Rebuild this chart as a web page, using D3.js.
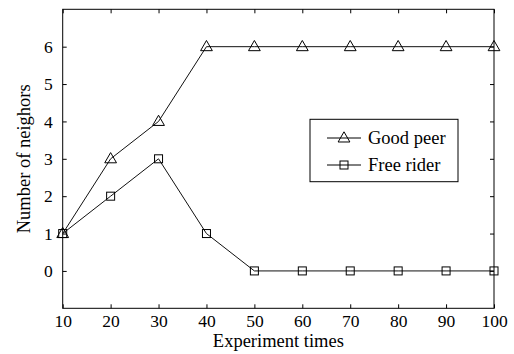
<!DOCTYPE html>
<html><head><meta charset="utf-8">
<script src="https://cdn.jsdelivr.net/npm/d3@7"></script>
<style>body{margin:0;background:#fff}svg{display:block}</style>
</head><body>
<script>
const xValues = [10,20,30,40,50,60,70,80,90,100];
const goodPeer = [1,3,4,6,6,6,6,6,6,6];
const freeRider = [1,2,3,1,0,0,0,0,0,0];
const xTicks = [10,20,30,40,50,60,70,80,90,100];
const yTicks = [0,1,2,3,4,5,6];
const seriesNames = ["Good peer","Free rider"];

const FONT='"Liberation Serif"';
const W=514,H=354;
const m={l:62.7,r:494,t:9.3,b:308.3};
const svg=d3.select("body").append("svg").attr("width",W).attr("height",H);
const x=d3.scaleLinear().domain([10,100]).range([m.l,m.r]);
const y=d3.scaleLinear().domain([-1,7]).range([m.b,m.t]);
const tl=4;
const gx=svg.append("g").attr("transform",`translate(0,${m.b})`)
  .call(d3.axisBottom(x).tickValues(xTicks).tickSizeInner(-tl).tickSizeOuter(0).tickPadding(6));
const gxt=svg.append("g").attr("transform",`translate(0,${m.t})`)
  .call(d3.axisTop(x).tickValues(xTicks).tickSizeInner(-tl).tickSizeOuter(0).tickFormat(""));
const gy=svg.append("g").attr("transform",`translate(${m.l},0)`)
  .call(d3.axisLeft(y).tickValues(yTicks).tickSizeInner(-tl).tickSizeOuter(0).tickPadding(10));
const gyr=svg.append("g").attr("transform",`translate(${m.r},0)`)
  .call(d3.axisRight(y).tickValues(yTicks).tickSizeInner(-tl).tickSizeOuter(0).tickFormat(""));
[gx,gxt,gy,gyr].forEach(g=>{
  g.select(".domain").remove();g.selectAll("line").attr("stroke","#000");
  g.selectAll("text").style("font-family",FONT).style("font-size","17.5px").attr("fill","#000");});
svg.append("rect").attr("x",m.l).attr("y",m.t).attr("width",m.r-m.l).attr("height",m.b-m.t)
  .attr("fill","none").attr("stroke","#000").attr("stroke-width",1);

const line=d3.line().x((d,i)=>x(xValues[i])).y(d=>y(d));
const tri=d3.symbol().type(d3.symbolTriangle).size(60);
const sq=8;
function drawSeries(vals,kind){
  svg.append("path").datum(vals).attr("d",line).attr("fill","none").attr("stroke","#111").attr("stroke-width",1);
  vals.forEach((v,i)=>{
    if(kind==="tri") svg.append("path").attr("d",tri()).attr("transform",`translate(${x(xValues[i])},${y(v)+0.6})`).attr("fill","none").attr("stroke","#000");
    else svg.append("rect").attr("x",x(xValues[i])-sq/2).attr("y",y(v)-sq/2).attr("width",sq).attr("height",sq).attr("fill","none").attr("stroke","#000");
  });
}
drawSeries(goodPeer,"tri");
drawSeries(freeRider,"sq");

const lg=svg.append("g");
lg.append("rect").attr("x",310).attr("y",119.3).attr("width",148).attr("height",62.4).attr("fill","#fff").attr("stroke","#000");
const rows=[138,165];
seriesNames.forEach((n,i)=>{
  lg.append("line").attr("x1",327).attr("x2",361).attr("y1",rows[i]).attr("y2",rows[i]).attr("stroke","#000");
  if(i===0) lg.append("path").attr("d",tri()).attr("transform",`translate(344,${rows[i]+0.6})`).attr("fill","none").attr("stroke","#000");
  else lg.append("rect").attr("x",344-sq/2).attr("y",rows[i]-sq/2).attr("width",sq).attr("height",sq).attr("fill","none").attr("stroke","#000");
  lg.append("text").attr("x",368).attr("y",rows[i]+6).style("font-family",FONT).style("font-size","18.5px").attr("fill","#000").text(n);
});
svg.append("text").attr("x",(m.l+m.r)/2).attr("y",347).attr("text-anchor","middle").style("font-family",FONT).style("font-size","18.5px").attr("fill","#000").text("Experiment times");
svg.append("text").attr("transform",`translate(29.5,${(m.t+m.b)/2}) rotate(-90)`).attr("text-anchor","middle").style("font-family",FONT).style("font-size","18.5px").attr("fill","#000").text("Number of neighors");
</script>
</body></html>
